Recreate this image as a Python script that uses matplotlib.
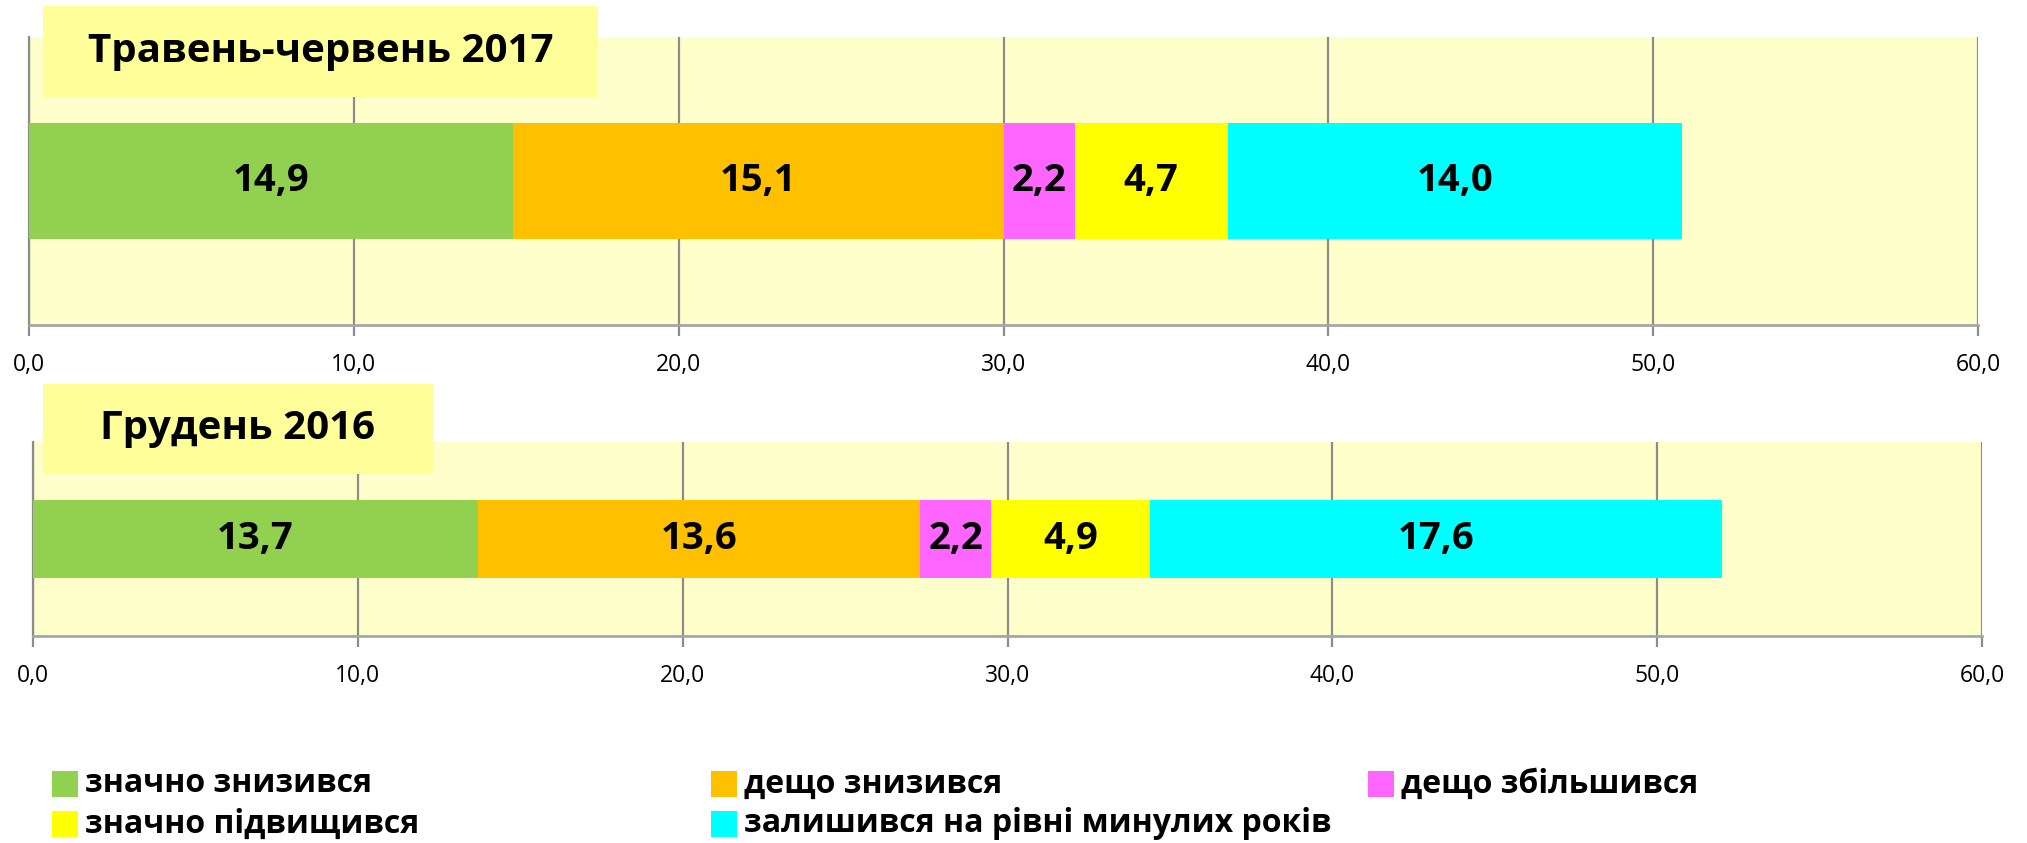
import matplotlib
matplotlib.use('Agg')
import matplotlib.pyplot as plt
from matplotlib.patches import Rectangle
from matplotlib.ticker import FuncFormatter, MultipleLocator

# дані
periods = ['Травень-червень 2017', 'Грудень 2016']
categories = ['значно знизився', 'дещо знизився', 'дещо збільшився',
              'значно підвищився', 'залишився на рівні минулих років']
values_2017 = [14.9, 15.1, 2.2, 4.7, 14.0]
values_2016 = [13.7, 13.6, 2.2, 4.9, 17.6]
colors = ['#92D050', '#FFC000', '#FF66FF', '#FFFF00', '#00FFFF']

plt.rcParams['font.family'] = ['Open Sans', 'DejaVu Sans']

W, H = 2027, 843
fig = plt.figure(figsize=(W / 100, H / 100), dpi=100)


def px_axes(x0, y0, x1, y1):
    # координати в пікселях від верхнього лівого кута
    return fig.add_axes([x0 / W, 1 - y1 / H, (x1 - x0) / W, (y1 - y0) / H])


def draw_panel(ax, values, title, box):
    ax.set_facecolor('#FFFFCC')
    left = 0
    for v, c in zip(values, colors):
        ax.barh(0, v, left=left, height=0.4, color=c, zorder=3)
        ax.text(left + v / 2, 0, f'{v:.1f}'.replace('.', ','), ha='center', va='center',
                fontsize=27.5, fontweight='bold', zorder=4)
        left += v
    ax.set_xlim(0, 60)
    ax.set_ylim(-0.5, 0.5)
    ax.xaxis.set_major_locator(MultipleLocator(10))
    ax.xaxis.set_major_formatter(FuncFormatter(lambda x, p: f'{x:.1f}'.replace('.', ',')))
    ax.grid(axis='x', color='#8C8C8C', linewidth=1.6, zorder=1)
    ax.set_yticks([])
    for s in ['top', 'right']:
        ax.spines[s].set_visible(False)
    ax.spines['left'].set_color('#8C8C8C')
    ax.spines['left'].set_linewidth(1.6)
    ax.spines['bottom'].set_color('#A6A6A6')
    ax.spines['bottom'].set_linewidth(2)
    ax.tick_params(axis='x', length=8, width=1.6, color='#8C8C8C', labelsize=16.5, pad=12)

    x0, y0, x1, y1 = box
    fig.add_artist(Rectangle((x0 / W, 1 - y1 / H), (x1 - x0) / W, (y1 - y0) / H,
                             transform=fig.transFigure, facecolor='#FFFF99',
                             edgecolor='none', zorder=5))
    fig.text((x0 + x1) / 2 / W, 1 - (y0 + y1) / 2 / H, title, ha='center', va='center',
             fontsize=29, fontweight='bold', zorder=6)


ax1 = px_axes(29, 37, 1978, 325)
draw_panel(ax1, values_2017, periods[0], (43, 6, 598, 97))
ax2 = px_axes(33, 442, 1982, 636)
draw_panel(ax2, values_2016, periods[1], (43, 384, 433, 474))

# легенда
col_x = [52, 711, 1368]
row_y = [784, 824]
for i, (name, c) in enumerate(zip(categories, colors)):
    r, k = divmod(i, 3)
    x, y = col_x[k], row_y[r]
    fig.add_artist(Rectangle((x / W, 1 - (y + 13) / H), 26 / W, 26 / H,
                             transform=fig.transFigure, facecolor=c, edgecolor='none'))
    fig.text((x + 33) / W, 1 - y / H, name, ha='left', va='center',
             fontsize=23, fontweight='bold')

fig.savefig('out.png', dpi=100)
